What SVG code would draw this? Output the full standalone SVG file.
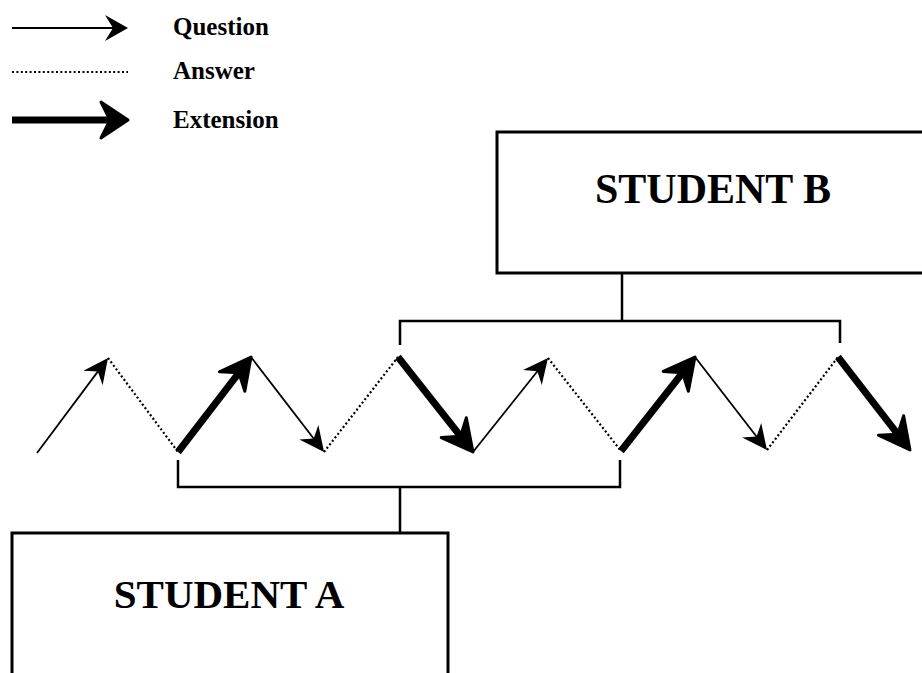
<svg xmlns="http://www.w3.org/2000/svg" width="922" height="673" viewBox="0 0 922 673">
<style>
.q{stroke:#000;stroke-width:1.8;fill:none}
.a{stroke:#000;stroke-width:2.2;fill:none;stroke-dasharray:2 2.4}
.e{stroke:#000;stroke-width:7;fill:none}
.br{stroke:#000;stroke-width:2.5;fill:none}
.box{fill:#fff;stroke:#000;stroke-width:3}
.lbl{font-family:"Liberation Serif","Times New Roman",serif;font-weight:bold;fill:#000}
</style>
<defs>
<marker id="mq" markerUnits="userSpaceOnUse" viewBox="-30 -20 50 40" markerWidth="50" markerHeight="40" refX="0" refY="0" orient="auto">
<path d="M8,0 L-17,-12 L-9,0 L-17,12 Z" fill="#000"/>
</marker>
<marker id="mq2" markerUnits="userSpaceOnUse" viewBox="-30 -20 50 40" markerWidth="50" markerHeight="40" refX="0" refY="0" orient="auto">
<path d="M8,0 L-15,-13 L-7,0 L-15,13 Z" fill="#000"/>
</marker>
<marker id="me" markerUnits="userSpaceOnUse" viewBox="-30 -25 60 50" markerWidth="60" markerHeight="50" refX="0" refY="0" orient="auto">
<path d="M14,0 L-17,-16 L-6,0 L-17,16 Z" fill="#000" stroke="#000" stroke-width="3" stroke-linejoin="round"/>
</marker>
<marker id="me2" markerUnits="userSpaceOnUse" viewBox="-30 -25 60 50" markerWidth="60" markerHeight="50" refX="0" refY="0" orient="auto">
<path d="M14,0 L-13,-18 L-4,0 L-13,18 Z" fill="#000" stroke="#000" stroke-width="3" stroke-linejoin="round"/>
</marker>
</defs>
<rect width="922" height="673" fill="#fff"/>
<g id="legend">
<line class="q" x1="12" y1="28" x2="120" y2="28" marker-end="url(#mq2)"/>
<text class="lbl" x="173" y="35" font-size="25">Question</text>
<line class="a" x1="12" y1="72" x2="128" y2="72"/>
<text class="lbl" x="173" y="79" font-size="25">Answer</text>
<line class="e" x1="12" y1="120" x2="114" y2="120" marker-end="url(#me2)"/>
<text class="lbl" x="173" y="128" font-size="25">Extension</text>
</g>
<g id="studentB">
<rect class="box" x="497" y="132" width="440" height="141"/>
<text class="lbl" x="713" y="203" font-size="42" text-anchor="middle">STUDENT B</text>
</g>
<g id="studentA">
<rect class="box" x="12" y="533" width="436" height="160"/>
<text class="lbl" x="229" y="608" font-size="41" text-anchor="middle">STUDENT A</text>
</g>
<g id="connectors">
<path class="br" d="M622,273 V321 M400,345 V321 H840 V343"/>
<path class="br" d="M178,460 V487 H620 V460 M400,487 V533"/>
<line class="q" x1="37" y1="453" x2="103.2" y2="364.4" marker-end="url(#mq)"/>
<line class="a" x1="108" y1="358" x2="178" y2="452"/>
<line class="e" x1="178" y1="452" x2="242.5" y2="368.1" marker-end="url(#me)"/>
<line class="q" x1="251" y1="357" x2="319.2" y2="445.7" marker-end="url(#mq)"/>
<line class="a" x1="324" y1="452" x2="398" y2="357"/>
<line class="e" x1="398" y1="357" x2="464.3" y2="441" marker-end="url(#me)"/>
<line class="q" x1="473" y1="452" x2="543" y2="364.2" marker-end="url(#mq)"/>
<line class="a" x1="548" y1="358" x2="621" y2="451"/>
<line class="e" x1="621" y1="451" x2="686.3" y2="368" marker-end="url(#me)"/>
<line class="q" x1="695" y1="357" x2="762.1" y2="443.7" marker-end="url(#mq)"/>
<line class="a" x1="767" y1="450" x2="838" y2="357"/>
<line class="e" x1="838" y1="357" x2="901.4" y2="438.9" marker-end="url(#me)"/>
</g>
</svg>
